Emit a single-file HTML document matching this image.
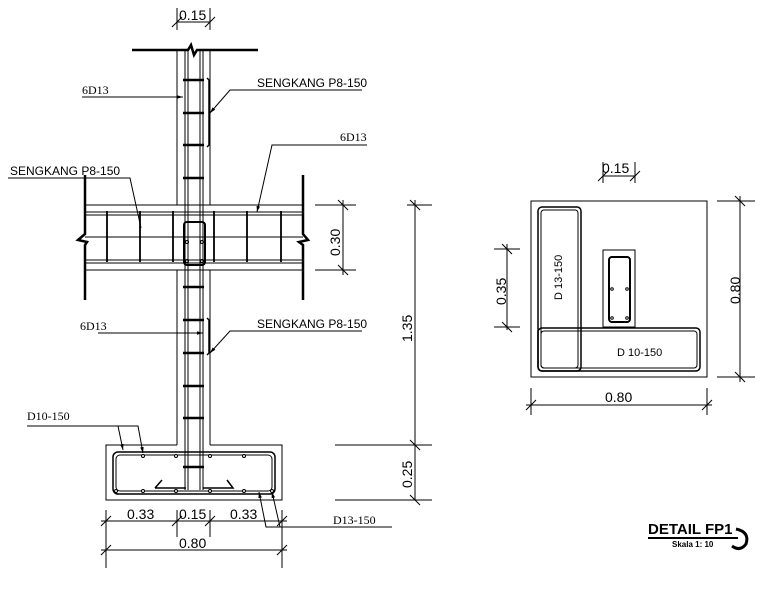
<!DOCTYPE html>
<html><head><meta charset="utf-8"><style>
html,body{margin:0;padding:0;background:#fff;}
svg{display:block;}
text{font-family:"Liberation Sans",sans-serif;fill:#000;}
.s{font-family:"Liberation Serif",serif;}
</style></head><body>
<svg width="766" height="593" viewBox="0 0 766 593" xmlns="http://www.w3.org/2000/svg">
<defs><marker id="a" viewBox="0 0 10 10" refX="10" refY="5" markerWidth="6" markerHeight="6" orient="auto"><path d="M0,2 L10,5 L0,8z" fill="#000"/></marker></defs>
<g stroke="#000" fill="none" stroke-width="1">
<path d="M132 50 H188 L191 45 L194 55 L197 50 H258" stroke-width="2.5"/>
<line x1="177" y1="50" x2="177" y2="205"/><line x1="210" y1="50" x2="210" y2="205"/>
<line x1="177" y1="270" x2="177" y2="445"/><line x1="210" y1="270" x2="210" y2="445"/>
<line x1="185" y1="50" x2="185" y2="490"/><line x1="188" y1="50" x2="188" y2="490"/>
<line x1="200" y1="50" x2="200" y2="490"/><line x1="203" y1="50" x2="203" y2="490"/>
<g stroke-width="2.5">
<line x1="183" y1="80" x2="204" y2="80"/><line x1="183" y1="113" x2="204" y2="113"/><line x1="183" y1="145" x2="204" y2="145"/><line x1="183" y1="178" x2="204" y2="178"/>
<line x1="183" y1="287" x2="204" y2="287"/><line x1="183" y1="320" x2="204" y2="320"/><line x1="183" y1="353" x2="204" y2="353"/><line x1="183" y1="386" x2="204" y2="386"/><line x1="183" y1="418" x2="204" y2="418"/><line x1="183" y1="467" x2="204" y2="467"/>
</g>
<path d="M207 78 L209 80 V145 L207 147" stroke-width="1.5"/>
<path d="M207 318 L209 320 V353 L207 355" stroke-width="1.5"/>
<line x1="85" y1="205" x2="303" y2="205"/><line x1="85" y1="212" x2="303" y2="212"/><line x1="85" y1="215" x2="303" y2="215"/>
<line x1="85" y1="237" x2="303" y2="237"/><line x1="85" y1="260" x2="303" y2="260"/><line x1="85" y1="263" x2="303" y2="263"/><line x1="85" y1="270" x2="303" y2="270"/>
<path d="M85 175 V234 L78 240 L87 242 L85 245 V300" stroke-width="2.5"/>
<path d="M303 175 V234 L308 240 L299 242 L303 245 V300" stroke-width="2.5"/>
<g stroke-width="1.8">
<line x1="107" y1="211" x2="107" y2="262"/><line x1="140" y1="211" x2="140" y2="262"/><line x1="173" y1="211" x2="173" y2="262"/>
<line x1="214" y1="211" x2="214" y2="262"/><line x1="247" y1="211" x2="247" y2="262"/><line x1="281" y1="211" x2="281" y2="262"/>
</g>
<rect x="184" y="222" width="21" height="43" rx="3" stroke-width="2"/>
<circle cx="187" cy="242" r="1.5"/><circle cx="202" cy="242" r="1.5"/><circle cx="187" cy="261" r="1.5"/><circle cx="202" cy="261" r="1.5"/>
<!-- footing -->
<path d="M177 445 H106 V500 H282 V445 H210"/>
<rect x="113" y="452" width="162" height="42" rx="5" stroke-width="1.5"/>
<rect x="116" y="455" width="156" height="36" rx="4"/>
<path d="M155 488 L162 480 M155 488 H186 M203 488 H233 L227 480" stroke-width="1.5"/>
<g fill="#fff"><circle cx="143" cy="456" r="1.5"/><circle cx="176" cy="456" r="1.5"/><circle cx="210" cy="456" r="1.5"/><circle cx="244" cy="456" r="1.5"/><circle cx="116" cy="491" r="1.5"/><circle cx="143" cy="491" r="1.5"/><circle cx="176" cy="491" r="1.5"/><circle cx="210" cy="491" r="1.5"/><circle cx="244" cy="491" r="1.5"/><circle cx="272" cy="491" r="1.5"/></g>
<line x1="415" y1="200" x2="415" y2="500"/>
<line x1="407" y1="205" x2="432" y2="205"/><line x1="335" y1="445" x2="432" y2="445"/><line x1="335" y1="500" x2="432" y2="500"/>
<line x1="410" y1="200" x2="420" y2="210"/><line x1="410" y1="440" x2="420" y2="450"/><line x1="410" y1="495" x2="420" y2="505"/>
<line x1="343" y1="200" x2="343" y2="275"/><line x1="315" y1="205" x2="356" y2="205"/><line x1="315" y1="270" x2="356" y2="270"/>
<line x1="338" y1="200" x2="348" y2="210"/><line x1="338" y1="265" x2="348" y2="275"/>
<line x1="101" y1="521" x2="287" y2="521"/><line x1="101" y1="550" x2="287" y2="550"/>
<line x1="106" y1="510" x2="106" y2="568"/><line x1="282" y1="510" x2="282" y2="568"/>
<line x1="177" y1="510" x2="177" y2="537"/><line x1="210" y1="510" x2="210" y2="537"/>
<line x1="101" y1="526" x2="111" y2="516"/><line x1="172" y1="526" x2="182" y2="516"/><line x1="205" y1="526" x2="215" y2="516"/><line x1="277" y1="526" x2="287" y2="516"/>
<line x1="101" y1="555" x2="111" y2="545"/><line x1="277" y1="555" x2="287" y2="545"/>
<line x1="177" y1="22" x2="210" y2="22"/><line x1="177" y1="8" x2="177" y2="30"/><line x1="210" y1="8" x2="210" y2="30"/>
<line x1="172" y1="27" x2="182" y2="17"/><line x1="205" y1="27" x2="215" y2="17"/>
<line x1="82" y1="97" x2="183" y2="97" marker-end="url(#a)"/>
<path d="M362 90 H230 L210 113" marker-end="url(#a)"/>
<path d="M367 145 H272 L257 212" marker-end="url(#a)"/>
<path d="M8 178 H130 L141 228"/>
<line x1="98" y1="333" x2="203" y2="333" marker-end="url(#a)"/>
<path d="M362 331 H230 L210 353" marker-end="url(#a)"/>
<path d="M27 426 H138 L143 453" marker-end="url(#a)"/><path d="M118 426 L123 450" marker-end="url(#a)"/>
<path d="M392 527 H266 L259 492" marker-end="url(#a)"/><path d="M280 527 L272 492" marker-end="url(#a)"/>
<rect x="531" y="201" width="176" height="176"/>
<rect x="603" y="250" width="32" height="77"/>
<rect x="609" y="257" width="21" height="65" rx="3" stroke-width="2"/>
<circle cx="612" cy="289" r="1.3"/><circle cx="627" cy="289" r="1.3"/><circle cx="612" cy="318" r="1.3"/><circle cx="627" cy="318" r="1.3"/>
<rect x="538" y="207" width="43" height="164" rx="4" stroke-width="1.5"/>
<rect x="541" y="210" width="37" height="158" rx="3"/>
<rect x="538" y="328" width="162" height="43" rx="4" stroke-width="1.5"/>
<rect x="541" y="331" width="156" height="37" rx="3"/>
<line x1="603" y1="176" x2="635" y2="176"/><line x1="603" y1="162" x2="603" y2="183"/><line x1="635" y1="162" x2="635" y2="183"/>
<line x1="598" y1="181" x2="608" y2="171"/><line x1="630" y1="181" x2="640" y2="171"/>
<line x1="507" y1="244" x2="507" y2="330"/><line x1="494" y1="249" x2="520" y2="249"/><line x1="494" y1="327" x2="520" y2="327"/>
<line x1="502" y1="244" x2="512" y2="254"/><line x1="502" y1="322" x2="512" y2="332"/>
<line x1="740" y1="196" x2="740" y2="382"/><line x1="717" y1="201" x2="755" y2="201"/><line x1="717" y1="377" x2="755" y2="377"/>
<line x1="735" y1="196" x2="745" y2="206"/><line x1="735" y1="372" x2="745" y2="382"/>
<line x1="526" y1="405" x2="712" y2="405"/><line x1="531" y1="388" x2="531" y2="415"/><line x1="707" y1="388" x2="707" y2="415"/>
<line x1="526" y1="410" x2="536" y2="400"/><line x1="702" y1="410" x2="712" y2="400"/>
<line x1="648" y1="538" x2="738" y2="538" stroke-width="2"/>
<path d="M736 529 Q750 532 746 544 Q740 552 732 546" stroke-width="3"/>
</g>
<g font-size="14">
<text x="179" y="20">0.15</text>
<text x="127" y="519">0.33</text><text x="179" y="519">0.15</text><text x="230" y="519">0.33</text>
<text x="179" y="548">0.80</text>
<text x="602" y="173">0.15</text>
<text x="605" y="402">0.80</text>
<text transform="translate(340,256) rotate(-90)">0.30</text>
<text transform="translate(412,342) rotate(-90)">1.35</text>
<text transform="translate(412,488) rotate(-90)">0.25</text>
<text transform="translate(506,305) rotate(-90)">0.35</text>
<text transform="translate(740,304) rotate(-90)">0.80</text>
</g>
<g font-size="12">
<text x="257" y="87">SENGKANG P8-150</text>
<text x="10" y="175">SENGKANG P8-150</text>
<text x="257" y="328">SENGKANG P8-150</text>
</g>
<g font-size="11">
<text x="617" y="356">D 10-150</text>
<text transform="translate(562,300) rotate(-90)">D 13-150</text>
</g>
<g font-size="12" class="s">
<text x="82" y="94" class="s">6D13</text>
<text x="340" y="141" class="s">6D13</text>
<text x="80" y="330" class="s">6D13</text>
<text x="27" y="420" class="s">D10-150</text>
<text x="333" y="524" class="s">D13-150</text>
</g>
<text x="648" y="534" font-size="15" font-weight="bold">DETAIL FP1</text>
<text x="672" y="547" font-size="8" font-weight="bold">Skala 1: 10</text>
</svg>
</body></html>
